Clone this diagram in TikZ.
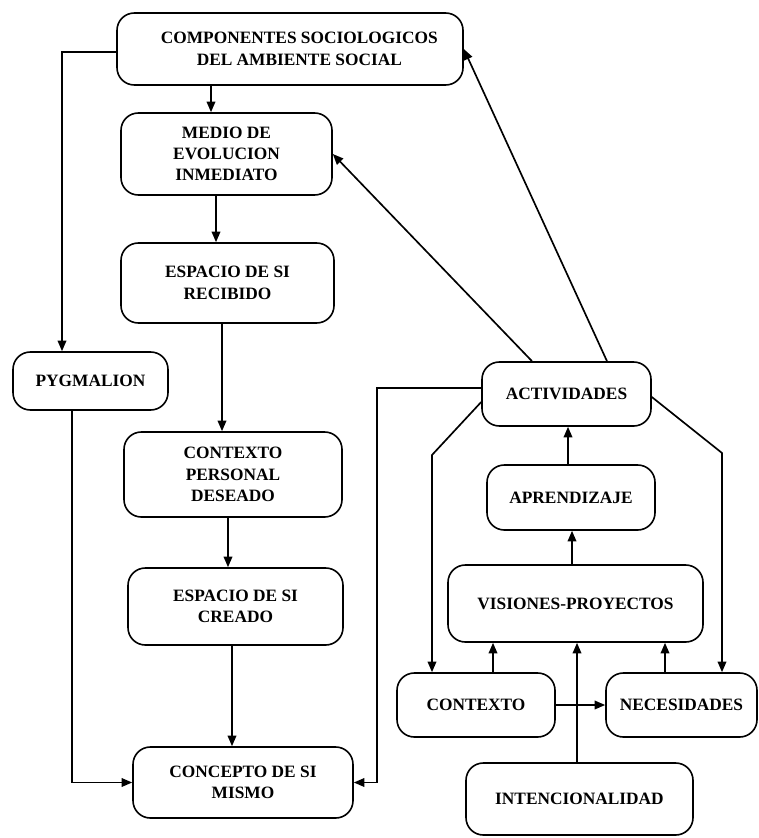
\documentclass[tikz,border=0pt]{standalone}
\usepackage{fontspec}
\setmainfont{Liberation Serif}
\usetikzlibrary{arrows.meta}
\begin{document}
\begin{tikzpicture}[x=0.75pt,y=-0.75pt,
  box/.style={draw,line width=1.2pt,rounded corners=13pt,align=center,
    inner sep=0pt,font=\fontsize{13}{16}\selectfont\bfseries},
  bw/.style={minimum width=#1*0.75pt},
  bh/.style={minimum height=#1*0.75pt},
  link/.style={line width=1.25pt},
  arr/.style={link,-{Triangle[length=8pt,width=6.5pt]}}]
\useasboundingbox (0,0) rectangle (759,838);
% left column
\node[box,bw=346,bh=72] (comp) at (290,49)
  {\hspace*{14pt}COMPONENTES SOCIOLOGICOS\\\hspace*{14pt}DEL AMBIENTE SOCIAL};
\node[box,bw=211,bh=82] (medio) at (226.5,154)
  {MEDIO DE\\EVOLUCION\\INMEDIATO};
\node[box,bw=213,bh=80] (recib) at (227.5,283)
  {ESPACIO DE SI\\RECIBIDO};
\node[box,bw=155,bh=58] (pyg) at (90.5,381) {PYGMALION};
\node[box,bw=218,bh=85] (cpd) at (233,474.5)
  {CONTEXTO\\PERSONAL\\DESEADO};
\node[box,bw=215,bh=77] (creado) at (235.5,606.5)
  {ESPACIO DE SI\\CREADO};
\node[box,bw=220,bh=71] (concepto) at (243,782.5)
  {CONCEPTO DE SI\\MISMO};
% right group
\node[box,bw=169,bh=64] (activ) at (566.5,394) {ACTIVIDADES};
\node[box,bw=168,bh=65] (aprend) at (571,497.5) {APRENDIZAJE};
\node[box,bw=255,bh=77] (vision) at (575.5,603.5) {VISIONES-PROYECTOS};
\node[box,bw=158,bh=64] (contexto) at (476,705) {CONTEXTO};
\node[box,bw=151,bh=64] (neces) at (681.5,705) {NECESIDADES};
\node[box,bw=227,bh=72] (intenc) at (579.5,799) {INTENCIONALIDAD};
% main chain
\draw[arr] (comp.west |- 0,52) -- (62,52) -- (pyg.north -| 62,0);
\draw[arr] (comp.south -| 211,0) -- (medio.north -| 211,0);
\draw[arr] (medio.south -| 216,0) -- (recib.north -| 216,0);
\draw[arr] (recib.south -| 222,0) -- (cpd.north -| 222,0);
\draw[arr] (cpd.south -| 228,0) -- (creado.north -| 228,0);
\draw[arr] (creado.south -| 232,0) -- (concepto.north -| 232,0);
\draw[arr] (pyg.south -| 72,0) -- (72,782.5) -- (concepto.west);
% feedback from the activities
\draw[arr] (activ.west |- 0,388) -- (377,388) -- (377,782.5) -- (concepto.east);
\draw[arr] (activ.north -| 532,0) -- (medio.east);
\draw[arr] (activ.north -| 607,0) -- (comp.east);
\draw[arr] (activ.west |- 0,402) -- (432,455) -- (contexto.north -| 432,0);
\draw[arr] (activ.east |- 0,397) -- (722,453) -- (neces.north -| 722,0);
\draw[arr] (aprend.north -| 568,0) -- (activ.south -| 568,0);
\draw[arr] (vision.north -| 572,0) -- (aprend.south -| 572,0);
\draw[arr] (contexto.north -| 493,0) -- (vision.south -| 493,0);
\draw[arr] (neces.north -| 665,0) -- (vision.south -| 665,0);
\draw[arr] (intenc.north -| 577,0) -- (vision.south -| 577,0);
\draw[arr] (contexto.east) -- (neces.west);
\end{tikzpicture}
\end{document}
